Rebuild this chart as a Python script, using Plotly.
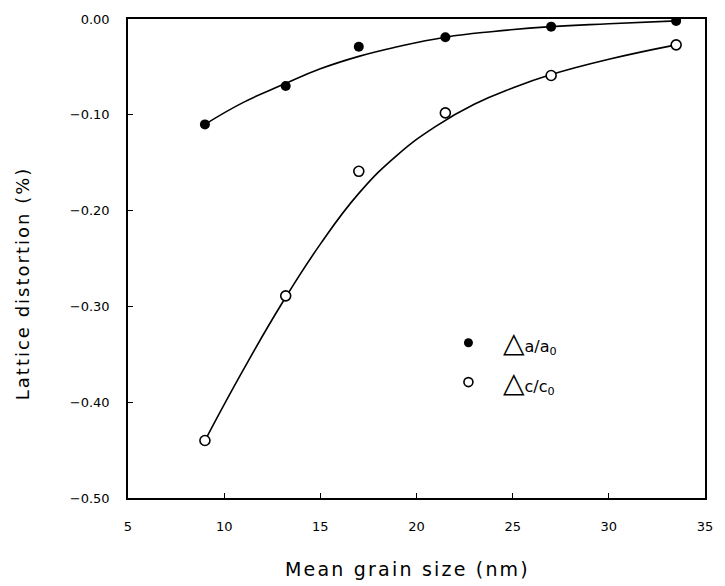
import plotly.graph_objects as go

# Measured data points
grain_size = [9.0, 13.2, 17.0, 21.5, 27.0, 33.5]
da_a0 = [-0.110, -0.070, -0.029, -0.019, -0.008, -0.002]
dc_c0 = [-0.440, -0.289, -0.159, -0.098, -0.059, -0.027]

# Fitted curves
fit_a_x = [9.0, 11.0, 13.0, 15.0, 17.0, 19.0, 21.5, 24.0, 27.0, 30.0, 33.5]
fit_a_y = [-0.110, -0.087, -0.069, -0.052, -0.039, -0.029, -0.019, -0.013, -0.008, -0.005, -0.002]
fit_c_x = [9.0, 11.0, 13.0, 15.0, 17.0, 19.0, 21.0, 23.0, 25.0, 27.0, 30.0, 33.5]
fit_c_y = [-0.440, -0.366, -0.297, -0.235, -0.182, -0.142, -0.112, -0.089, -0.072, -0.058, -0.042, -0.027]

x_ticks = [5, 10, 15, 20, 25, 30, 35]
y_ticks = [0.0, -0.1, -0.2, -0.3, -0.4, -0.5]

FONT = "DejaVu Sans"

fig = go.Figure()
for fx, fy in ((fit_a_x, fit_a_y), (fit_c_x, fit_c_y)):
    fig.add_trace(go.Scatter(x=fx, y=fy, mode="lines",
                             line=dict(color="black", width=1.6, shape="spline", smoothing=1.3),
                             showlegend=False, hoverinfo="skip"))
fig.add_trace(go.Scatter(x=grain_size, y=da_a0, mode="markers",
                         marker=dict(symbol="circle", size=10, color="black"),
                         showlegend=False))
fig.add_trace(go.Scatter(x=grain_size, y=dc_c0, mode="markers",
                         marker=dict(symbol="circle", size=10, color="white",
                                     line=dict(width=1.6, color="black")),
                         showlegend=False))

# Legend drawn manually
legend_x_marker = [22.7, 22.7]
legend_y_marker = [-0.338, -0.379]
fig.add_trace(go.Scatter(x=[legend_x_marker[0]], y=[legend_y_marker[0]], mode="markers",
                         marker=dict(symbol="circle", size=9, color="black"), showlegend=False))
fig.add_trace(go.Scatter(x=[legend_x_marker[1]], y=[legend_y_marker[1]], mode="markers",
                         marker=dict(symbol="circle", size=9, color="white",
                                     line=dict(width=1.6, color="black")), showlegend=False))
for lab, yy in (("a/a", legend_y_marker[0]), ("c/c", legend_y_marker[1])):
    fig.add_annotation(x=24.4, y=yy, xref="x", yref="y", xanchor="left", yanchor="middle",
                       text='<span style="font-size:28px">△</span>' + lab + '<sub>0</sub>',
                       showarrow=False, font=dict(family=FONT, size=16, color="black"))

# Axis titles
fig.add_annotation(x=0.485, y=-0.148, xref="paper", yref="paper", xanchor="center", yanchor="middle",
                   text='<span style="letter-spacing:2.2px">Mean grain size (nm)</span>',
                   showarrow=False, font=dict(family=FONT, size=19, color="black"))
fig.add_annotation(x=-0.1815, y=0.449, xref="paper", yref="paper", xanchor="center", yanchor="middle",
                   text='<span style="letter-spacing:2px">Lattice distortion (%)</span>',
                   showarrow=False, textangle=-90,
                   font=dict(family=FONT, size=18, color="black"))

axis_common = dict(showgrid=False, zeroline=False, showline=True, linecolor="black", linewidth=1.5,
                   mirror=True, ticks="inside", ticklen=5, tickcolor="black", tickwidth=1.2,
                   tickfont=dict(family=FONT, size=13, color="black"))

fig.update_xaxes(range=[5, 35], tickvals=x_ticks, ticktext=[str(v) for v in x_ticks],
                 ticklabelstandoff=16, **axis_common)
fig.update_yaxes(range=[-0.5, 0.0], tickvals=y_ticks, tickformat=".2f",
                 ticklabelstandoff=14, **axis_common)

fig.update_layout(width=725, height=586, margin=dict(l=128, r=13, t=13, b=88),
                  plot_bgcolor="white", paper_bgcolor="white", showlegend=False)

fig.write_html("out.html")
